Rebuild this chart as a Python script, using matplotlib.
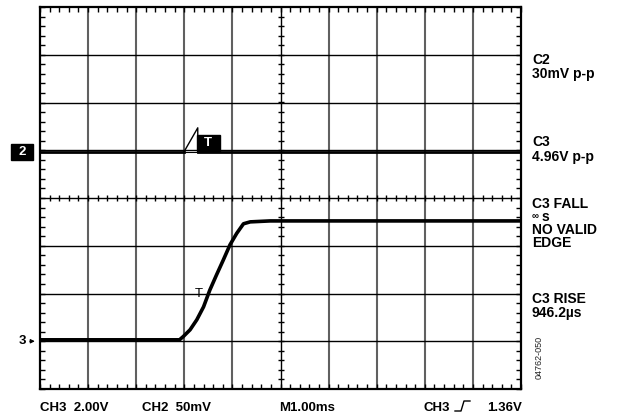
import numpy as np
import matplotlib
matplotlib.use("Agg")
import matplotlib.pyplot as plt
from matplotlib.lines import Line2D
from matplotlib.patches import Rectangle

plt.rcParams['font.family'] = ['Liberation Sans', 'DejaVu Sans']

# screen is 10 x 8 divisions, values below are in divisions
ch2_level = 4.96
ch3_x = [0.0, 2.90, 2.98, 3.12, 3.26, 3.40, 3.53, 3.67, 3.81, 3.95, 4.09, 4.23, 4.37, 4.78, 10.0]
ch3_y = [1.03, 1.03, 1.10, 1.24, 1.45, 1.72, 2.07, 2.39, 2.70, 3.02, 3.26, 3.46, 3.50, 3.52, 3.52]

# trigger ramp marker on CH2
trig_x = [2.99, 3.28, 3.28]
trig_y = [4.96, 5.47, 4.96]

right_labels = ["C2", "30mV p-p", "C3", "4.96V p-p", "C3 FALL", "s",
                "NO VALID", "EDGE", "C3 RISE", "946.2\u00b5s"]
right_label_base = [64, 78, 146, 161, 208, 221, 234, 247, 303, 317]

bottom_labels = ["CH3  2.00V", "CH2  50mV", "M1.00ms", "CH3"]
bottom_label_x = [40, 142, 279, 423]
trig_level_label = "1.36V"
plot_id = "04762-050"

W, H = 621, 417
fig = plt.figure(figsize=(W / 100, H / 100), dpi=100)
ax = fig.add_axes([40 / W, (H - 389) / H, 481 / W, 382 / H])
ax.set_xlim(0, 10)
ax.set_ylim(0, 8)


def px(x, y):
    return x / W, 1 - y / H


# grid
for i in range(1, 10):
    if i == 5:
        ax.axvline(i, color='black', lw=1.0, zorder=1)
    else:
        ax.axvline(i, color='#606060', lw=1.5, zorder=1)
for j in range(1, 8):
    ax.axhline(j, color='black', lw=1.0, zorder=1)

# border ticks
ax.set_xticks(np.arange(0, 10.01, 0.2))
ax.set_yticks(np.arange(0, 8.01, 0.2))
ax.tick_params(direction='in', length=3.5, width=1.0, top=True, right=True,
               labelbottom=False, labelleft=False)
for s in ax.spines.values():
    s.set_linewidth(1.6)

# center line ticks
tx = np.arange(0.2, 10, 0.2)
ax.plot(tx, np.full_like(tx, 4.0), ls='none', marker='|', ms=5, mew=1.0, color='black')
ty = np.arange(0.2, 8, 0.2)
ax.plot(np.full_like(ty, 5.0), ty, ls='none', marker='_', ms=5, mew=1.0, color='black')

# CH2 trace
ax.plot([0, trig_x[0]], [ch2_level, ch2_level], color='black', lw=2.0, zorder=3)
ax.plot([trig_x[0], trig_x[1]], [ch2_level, ch2_level], color='black', lw=0.8, zorder=3)
ax.plot([trig_x[1], 10], [ch2_level, ch2_level], color='black', lw=2.0, zorder=3)
ax.plot(trig_x, trig_y, color='black', lw=1.0, zorder=3)
ax.add_patch(Rectangle((3.26, 4.99), 0.48, 0.33, color='black', zorder=4))
ax.text(3.50, 5.155, "T", color='white', fontsize=9.5, fontweight='bold',
        ha='center', va='center', zorder=5)

# CH3 trace
ax.plot(ch3_x, ch3_y, color='black', lw=2.6, zorder=3, solid_capstyle='round')
ax.text(3.30, 1.99, "T", fontsize=9.5, ha='center', va='center', zorder=5)

# channel markers
ax.add_patch(Rectangle((-0.60, 4.79), 0.46, 0.34, color='black', clip_on=False))
ax.text(-0.37, 4.96, "2", color='white', fontsize=9.5, fontweight='bold',
        ha='center', va='center', clip_on=False)
ax.text(-0.37, 1.0, "3", fontsize=9.5, fontweight='bold', ha='center', va='center')
ax.annotate('', xy=(-0.05, 1.0), xytext=(-0.27, 1.0), annotation_clip=False,
            arrowprops=dict(arrowstyle='-|>', lw=0.8, color='black', mutation_scale=6))

# right side readouts
for lab, yy in zip(right_labels, right_label_base):
    xx = 542 if lab == "s" else 532
    fig.text(*px(xx, yy), lab, fontsize=10, fontweight='bold', va='baseline', ha='left')
fig.text(*px(532, 219), "\u221e", fontsize=7, fontweight='bold', va='baseline', ha='left')

# bottom readouts
for lab, xx in zip(bottom_labels, bottom_label_x):
    fig.text(*px(xx, 411), lab, fontsize=9.5, fontweight='bold', va='baseline', ha='left')
fig.text(*px(522, 411), trig_level_label, fontsize=9.5, fontweight='bold', va='baseline', ha='right')
edge_px = [(455, 411), (461, 411), (464, 401), (470, 401)]
ex = [px(a, b)[0] for a, b in edge_px]
ey = [px(a, b)[1] for a, b in edge_px]
fig.add_artist(Line2D(ex, ey, transform=fig.transFigure, color='black', lw=1.0))

fig.text(*px(539, 357), plot_id, fontsize=6.5, rotation=90, va='center', ha='center',
         color='#222222')

fig.savefig("out.png", dpi=100)
